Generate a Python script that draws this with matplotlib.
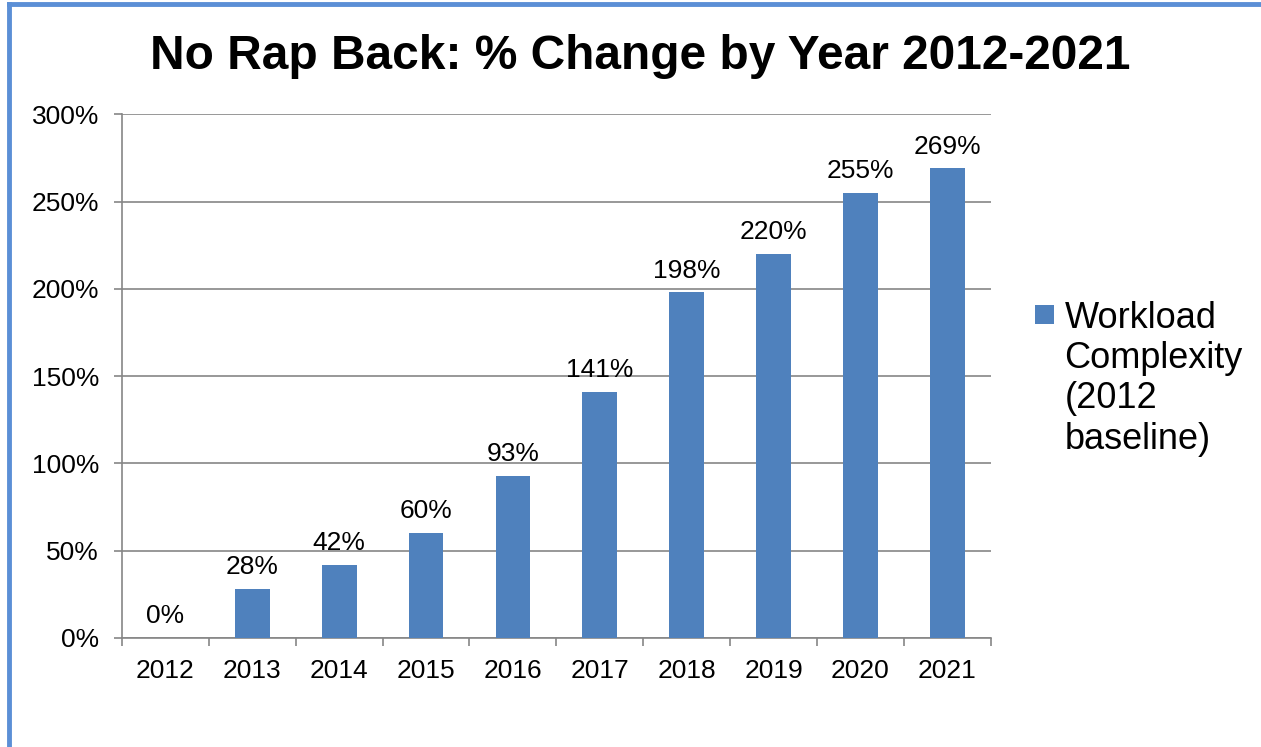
import numpy as np
import matplotlib.pyplot as plt
from matplotlib.lines import Line2D
from matplotlib.patches import Rectangle
from matplotlib.container import BarContainer
from matplotlib.legend_handler import HandlerPatch

plt.rcParams['font.family'] = ['Liberation Sans', 'DejaVu Sans']

years = ['2012', '2013', '2014', '2015', '2016', '2017', '2018', '2019', '2020', '2021']
pct_change = [0, 28, 42, 60, 93, 141, 198, 220, 255, 269]
series_name = 'Workload\nComplexity\n(2012\nbaseline)'
title = 'No Rap Back: % Change by Year 2012-2021'

bar_color = '#4F81BD'
grid_color = '#868686'

fig = plt.figure(figsize=(12.61, 7.47), dpi=100)
ax = fig.add_axes([0.0967, 0.146, 0.689, 0.701])

x = np.arange(len(years))
bars = ax.bar(x, pct_change, width=0.4, color=bar_color, label=series_name, zorder=3)

for xi, v in zip(x, pct_change):
    ax.annotate(f'{v}%', (xi, v), xytext=(0, 7), textcoords='offset points',
                ha='center', va='bottom', fontsize=19)

ax.set_xlim(-0.5, len(years) - 0.5)
ax.set_ylim(0, 300)
ax.set_yticks(np.arange(0, 301, 50))
ax.set_yticklabels([f'{t}%' for t in range(0, 301, 50)])
ax.yaxis.grid(True, color=grid_color, linewidth=1.2, zorder=0)
ax.set_axisbelow(True)

# category labels centered, tick marks on category boundaries
ax.set_xticks(x)
ax.set_xticklabels(years)
ax.tick_params(axis='x', which='major', length=0, pad=15.5, labelsize=19)
ax.set_xticks(np.arange(-0.5, len(years)), minor=True)
ax.tick_params(axis='x', which='minor', length=6, width=1.2, color=grid_color, direction='out')
ax.tick_params(axis='y', length=6, width=1.2, color=grid_color, pad=10.5, labelsize=19)

for s in ['top', 'right']:
    ax.spines[s].set_visible(False)
for s in ['left', 'bottom']:
    ax.spines[s].set_color(grid_color)
    ax.spines[s].set_linewidth(1.2)

fig.text(0.508, 0.925, title, ha='center', va='center', fontsize=34.5, fontweight='bold')


# legend square sits next to the first line of the label
def top_square(legend, orig_handle, xdescent, ydescent, width, height, fontsize):
    return Rectangle((-xdescent, -ydescent + 1.5 * 1.2 * fontsize), width, height)


def first_bar(legend_handle, orig_handle):
    legend_handle.update_from(orig_handle.patches[0])


leg = fig.legend(loc='center left', bbox_to_anchor=(0.8205, 0.493), frameon=False,
                 fontsize=26, handlelength=0.53, handleheight=0.44, handletextpad=0.3,
                 borderaxespad=0, borderpad=0,
                 handler_map={BarContainer: HandlerPatch(patch_func=top_square,
                                                         update_func=first_bar)})

# slide frame lines on left and top
frame = '#5B8FD6'
fig.add_artist(Line2D([0.0075, 0.0075], [0, 0.995], transform=fig.transFigure, color=frame, lw=3.5))
fig.add_artist(Line2D([0.0075, 1.0], [0.9945, 0.9945], transform=fig.transFigure, color=frame, lw=3.5))

fig.savefig('out.png', dpi=100)
